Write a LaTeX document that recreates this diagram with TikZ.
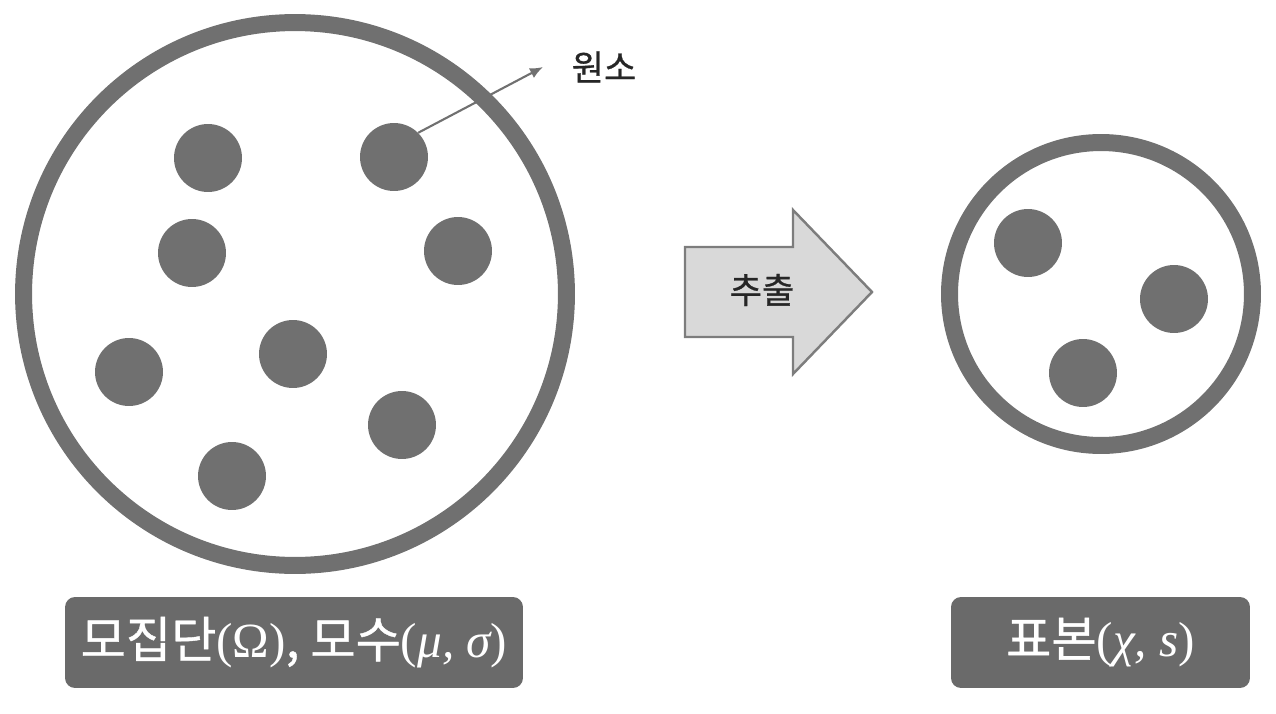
\documentclass[tikz,border=0pt]{standalone}
\usepackage{fontspec}
\newfontfamily\kr{Noto Sans CJK KR}[FakeBold=0.8]
\newfontfamily\grk{Liberation Serif}
\usetikzlibrary{arrows.meta}
\definecolor{ringgray}{RGB}{112,112,112}
\definecolor{taggray}{RGB}{106,106,106}
\definecolor{arrowfill}{RGB}{217,217,217}
\definecolor{arrowedge}{RGB}{125,125,125}
\newcommand{\gsym}[1]{{\grk\itshape #1}}
\begin{document}
\begin{tikzpicture}[x=0.02cm, y=-0.02cm,
    ring/.style={circle, draw=ringgray, line width=0.34cm, inner sep=0pt, outer sep=0pt},
    dot/.style={circle, fill=ringgray, minimum size=1.36cm, inner sep=0pt},
    tag/.style={rounded corners=0.2cm, fill=taggray, text=white, minimum height=1.82cm,
        inner sep=0pt, font=\kr\fontsize{28}{30}\selectfont},
    word/.style={text=black!85, font=\kr\fontsize{20}{22}\selectfont}
]
    \useasboundingbox (0,0) rectangle (1276,714);

    % Population: big ring with its elements
    \node[ring, minimum size=10.86cm] (pop) at (295,294) {};
    \foreach \n/\x/\y in {e1/208/158, e2/394/157, e3/192/253, e4/458/251,
                          e5/129/372, e6/293/354, e7/402/425, e8/232/476}
        \node[dot] (\n) at (\x,\y) {};

    % Pointer to one element
    \coordinate (eltip) at (543,67);
    \node[word] (elem) at (604,67) {원소};
    \draw[ringgray, line width=1.2pt, -{Latex[length=0.26cm,width=0.22cm]}] (e2.45) -- (eltip);

    % Block arrow: extraction
    \draw[fill=arrowfill, draw=arrowedge, line width=1.4pt, line join=miter]
        (685,247) -- (793,247) -- (793,210) -- (872,292) -- (793,374) -- (793,337) -- (685,337) -- cycle;
    \node[word] (extract) at (762,290) {추출};

    % Sample: small ring with its elements
    \node[ring, minimum size=6.06cm] (smp) at (1101,294) {};
    \foreach \n/\x/\y in {s1/1028/243, s2/1174/299, s3/1083/373}
        \node[dot] (\n) at (\x,\y) {};

    % Labels under each ring
    \node[tag, minimum width=9.16cm] (poplabel) at (294,642.5)
        {모집단{\grk(Ω)}, 모수{\grk(\gsym{μ, σ})}};
    \node[tag, minimum width=5.98cm] (smplabel) at (1100.5,642.5)
        {표본{\grk(\gsym{χ, s})}};
\end{tikzpicture}
\end{document}
